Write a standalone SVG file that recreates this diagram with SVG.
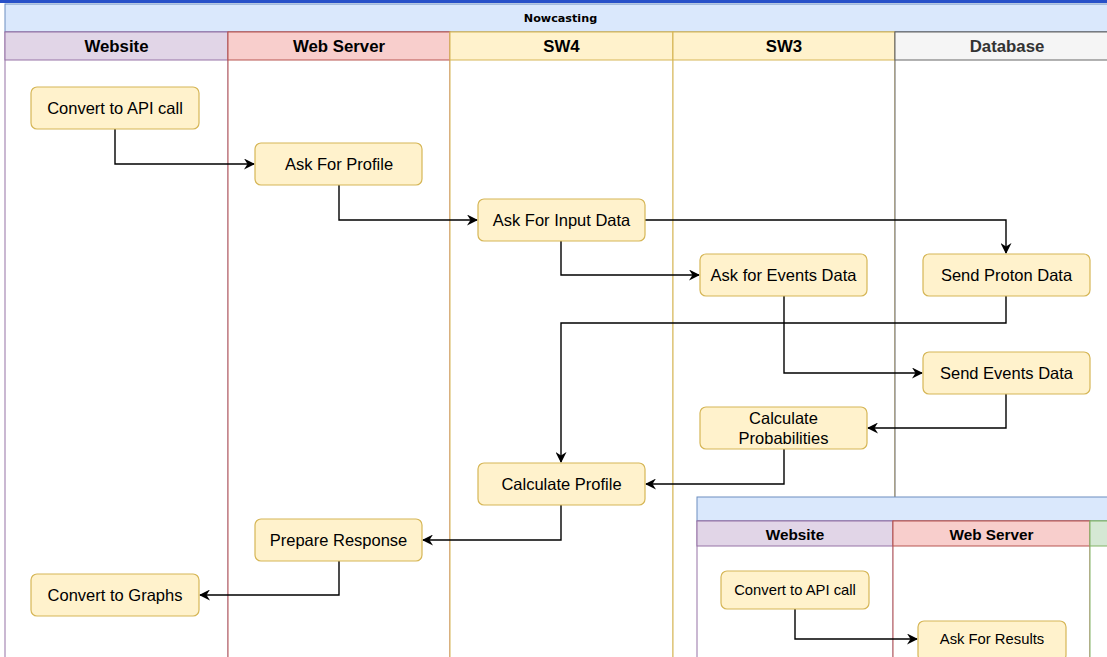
<svg xmlns="http://www.w3.org/2000/svg" width="1107" height="657" viewBox="0 0 1107 657">
<defs>
<marker id="arr" markerWidth="11" markerHeight="11" refX="10" refY="5.5" orient="auto" markerUnits="userSpaceOnUse">
<path d="M0,0 L11,5.5 L0,11 L3.5,5.5 Z" fill="#000"/>
</marker>
<style>
.node rect{fill:#fff2cc;stroke:#d6b656;stroke-width:1.2}
.node text{font-family:"Liberation Sans",Arial,sans-serif;font-size:16.5px;fill:#000;text-anchor:middle;dominant-baseline:central}
.small rect{fill:#fff2cc;stroke:#d6b656;stroke-width:1.2}
.small text{font-family:"Liberation Sans",Arial,sans-serif;font-size:14.8px;fill:#000;text-anchor:middle;dominant-baseline:central}
.hdr{font-family:"Liberation Sans",Arial,sans-serif;font-size:16.8px;font-weight:bold;fill:#000;text-anchor:middle;dominant-baseline:central}
.hdr2{font-family:"Liberation Sans",Arial,sans-serif;font-size:15.3px;font-weight:bold;fill:#000;text-anchor:middle;dominant-baseline:central}
.conn path{fill:none;stroke:#000;stroke-width:1.4;marker-end:url(#arr)}
</style>
</defs>
<rect x="0" y="0" width="1107" height="657" fill="#ffffff"/>
<rect x="0" y="0" width="1107" height="3" fill="#2850c8"/>
<g id="pool">
<rect x="5" y="4" width="1110" height="28" fill="#dae8fc" stroke="#6c8ebf" stroke-width="1"/>
<text x="560.5" y="18.5" font-family="DejaVu Sans,Verdana,sans-serif" font-size="11.2" font-weight="bold" fill="#000" text-anchor="middle" dominant-baseline="central">Nowcasting</text>
</g>
<g id="lane-website">
<rect x="5" y="32" width="223" height="640" fill="#ffffff" stroke="#9673a6" stroke-width="1"/>
<rect x="5" y="32" width="223" height="28" fill="#e1d5e7" stroke="#9673a6" stroke-width="1"/>
<text class="hdr" x="116.5" y="46">Website</text>
</g>
<g id="lane-webserver">
<rect x="228" y="32" width="222" height="640" fill="#ffffff" stroke="#b85450" stroke-width="1"/>
<rect x="228" y="32" width="222" height="28" fill="#f8cecc" stroke="#b85450" stroke-width="1"/>
<text class="hdr" x="339" y="46">Web Server</text>
</g>
<g id="lane-sw4">
<rect x="450" y="32" width="223" height="640" fill="#ffffff" stroke="#d6b656" stroke-width="1"/>
<rect x="450" y="32" width="223" height="28" fill="#fff2cc" stroke="#d6b656" stroke-width="1"/>
<text class="hdr" x="561.5" y="46">SW4</text>
</g>
<g id="lane-sw3">
<rect x="673" y="32" width="222" height="640" fill="#ffffff" stroke="#d6b656" stroke-width="1"/>
<rect x="673" y="32" width="222" height="28" fill="#fff2cc" stroke="#d6b656" stroke-width="1"/>
<text class="hdr" x="784" y="46">SW3</text>
</g>
<g id="lane-database">
<rect x="895" y="32" width="230" height="640" fill="#ffffff" stroke="#666666" stroke-width="1"/>
<rect x="895" y="32" width="230" height="28" fill="#f5f5f5" stroke="#666666" stroke-width="1"/>
<text class="hdr" x="1007" y="46" style="fill:#333">Database</text>
</g>

<g id="connectors" class="conn">
<path d="M115,129 V164 H254"/>
<path d="M339,185 V220 H477"/>
<path d="M645,220 H1006 V253"/>
<path d="M561,241 V275 H699"/>
<path d="M1006,296 V323 H561 V462"/>
<path d="M784,296 V373 H922"/>
<path d="M1006,394 V428 H868"/>
<path d="M784,449 V484 H646"/>
<path d="M561,505 V540 H423"/>
<path d="M339,561 V595 H200"/>
</g>

<g id="n-convert-api" class="node"><rect x="31" y="87" width="168" height="42" rx="6"/><text x="115" y="108">Convert to API call</text></g>
<g id="n-ask-profile" class="node"><rect x="255" y="143" width="167" height="42" rx="6"/><text x="339" y="164">Ask For Profile</text></g>
<g id="n-ask-input" class="node"><rect x="478" y="199" width="167" height="42" rx="6"/><text x="561.5" y="220">Ask For Input Data</text></g>
<g id="n-ask-events" class="node"><rect x="700" y="254" width="167" height="42" rx="6"/><text x="783.5" y="275">Ask for Events Data</text></g>
<g id="n-send-proton" class="node"><rect x="923" y="254" width="167" height="42" rx="6"/><text x="1006.5" y="275">Send Proton Data</text></g>
<g id="n-send-events" class="node"><rect x="923" y="352" width="167" height="42" rx="6"/><text x="1006.5" y="373">Send Events Data</text></g>
<g id="n-calc-prob" class="node"><rect x="700" y="407" width="167" height="42" rx="6"/><text x="783.5" y="418">Calculate</text><text x="783.5" y="438">Probabilities</text></g>
<g id="n-calc-profile" class="node"><rect x="478" y="463" width="167" height="42" rx="6"/><text x="561.5" y="484">Calculate Profile</text></g>
<g id="n-prepare" class="node"><rect x="255" y="519" width="167" height="42" rx="6"/><text x="338.5" y="540">Prepare Response</text></g>
<g id="n-graphs" class="node"><rect x="31" y="574" width="168" height="42" rx="6"/><text x="115" y="595">Convert to Graphs</text></g>

<g id="pool2">
<rect x="697" y="497" width="420" height="24" fill="#dae8fc" stroke="#6c8ebf" stroke-width="1"/>
</g>
<g id="lane2-website">
<rect x="697" y="521" width="196" height="160" fill="#ffffff" stroke="#9673a6" stroke-width="1"/>
<rect x="697" y="521" width="196" height="25" fill="#e1d5e7" stroke="#9673a6" stroke-width="1"/>
<text class="hdr2" x="795" y="534">Website</text>
</g>
<g id="lane2-webserver">
<rect x="893" y="521" width="197" height="160" fill="#ffffff" stroke="#b85450" stroke-width="1"/>
<rect x="893" y="521" width="197" height="25" fill="#f8cecc" stroke="#b85450" stroke-width="1"/>
<text class="hdr2" x="991.5" y="534">Web Server</text>
</g>
<g id="lane2-third">
<rect x="1090" y="521" width="40" height="160" fill="#ffffff" stroke="#82b366" stroke-width="1"/>
<rect x="1090" y="521" width="40" height="25" fill="#d5e8d4" stroke="#82b366" stroke-width="1"/>
</g>
<g id="connectors2" class="conn">
<path d="M795,609 V639 H917"/>
</g>
<g id="n2-convert-api" class="small"><rect x="721" y="571" width="148" height="38" rx="6"/><text x="795" y="590">Convert to API call</text></g>
<g id="n2-ask-results" class="small"><rect x="918" y="621" width="148" height="40" rx="6"/><text x="992" y="639">Ask For Results</text></g>
</svg>
